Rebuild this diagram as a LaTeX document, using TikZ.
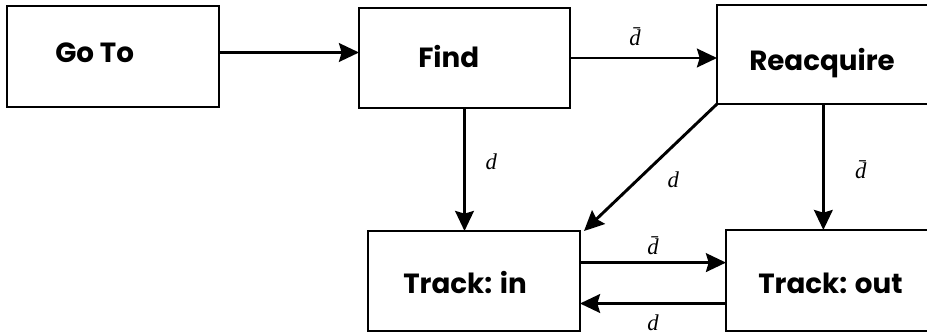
\documentclass[tikz,border=0pt]{standalone}
\usepackage{fontspec}
\newfontfamily\boxfont{Poppins}
\newfontfamily\lblfont{Liberation Serif}
\usetikzlibrary{arrows.meta,calc}
\tikzset{
  box/.style={draw, line width=2pt, rectangle, inner sep=0pt, outer sep=0pt},
  boxtext/.style={font=\boxfont\bfseries\fontsize{20.8}{21}\selectfont, anchor=base west, inner sep=0pt},
  arr/.style={line width=2.2pt, -{Stealth[length=15pt,width=14pt,inset=2pt]}},
  lbl/.style={font=\lblfont\itshape\fontsize{17}{17}\selectfont, inner sep=0pt}
}
\newcommand\dbar{d^^^^0304}
\begin{document}
\begin{tikzpicture}[x=0.75pt,y=-0.75pt]
\useasboundingbox (0,0) rectangle (927,335);
\clip (0,0) rectangle (927,335);
\node[box, minimum width=212*0.75pt, minimum height=101*0.75pt] (goto) at (113,56.5) {};
\node[box, minimum width=211*0.75pt, minimum height=100*0.75pt] (find) at (464.5,58) {};
\node[box, minimum width=218*0.75pt, minimum height=99*0.75pt] (reacq) at (826,54.5) {};
\node[box, minimum width=212*0.75pt, minimum height=100*0.75pt] (tin) at (474,281) {};
\node[box, minimum width=209*0.75pt, minimum height=101*0.75pt] (tout) at (830.5,280.5) {};
\node[boxtext] (tgoto) at (55,63) {Go To};
\node[boxtext] (tfind) at (418,68) {Find};
\node[boxtext] (treacq) at (749,70) {Reacquire};
\node[boxtext] (ttin) at (403,293) {Track: in};
\node[boxtext] (ttout) at (758,293) {Track: out};
\draw[arr] ($(goto.east)+(0,-4)$) -- ($(goto.east -| find.west)+(0,-4)$);
\draw[arr] (find.east) -- (find.east -| reacq.west)
  node[lbl, midway, xshift=-6.4pt, yshift=16pt] {\dbar};
\draw[arr] (find.south) -- (find.south |- tin.north)
  node[lbl, midway, xshift=20pt, yshift=6pt] {d};
\draw[arr] (reacq.south west) -- ([xshift=3pt]tin.north east)
  node[lbl, midway, xshift=17pt, yshift=-9pt] {d};
\draw[arr] ([xshift=-2pt]reacq.south) -- ([xshift=-2pt]reacq.south |- tout.north)
  node[lbl, midway, xshift=28pt, yshift=-2pt] {\dbar};
\draw[arr] ($(tin.east)+(0,-18.4)$) -- ($(tin.east -| tout.west)+(0,-18.4)$)
  node[lbl, midway, yshift=12.5pt] {\dbar};
\draw[arr] ($(tout.west)+(0,23)$) -- ($(tout.west -| tin.east)+(0,23)$)
  node[lbl, midway, yshift=-14.5pt] {d};
\end{tikzpicture}
\end{document}
